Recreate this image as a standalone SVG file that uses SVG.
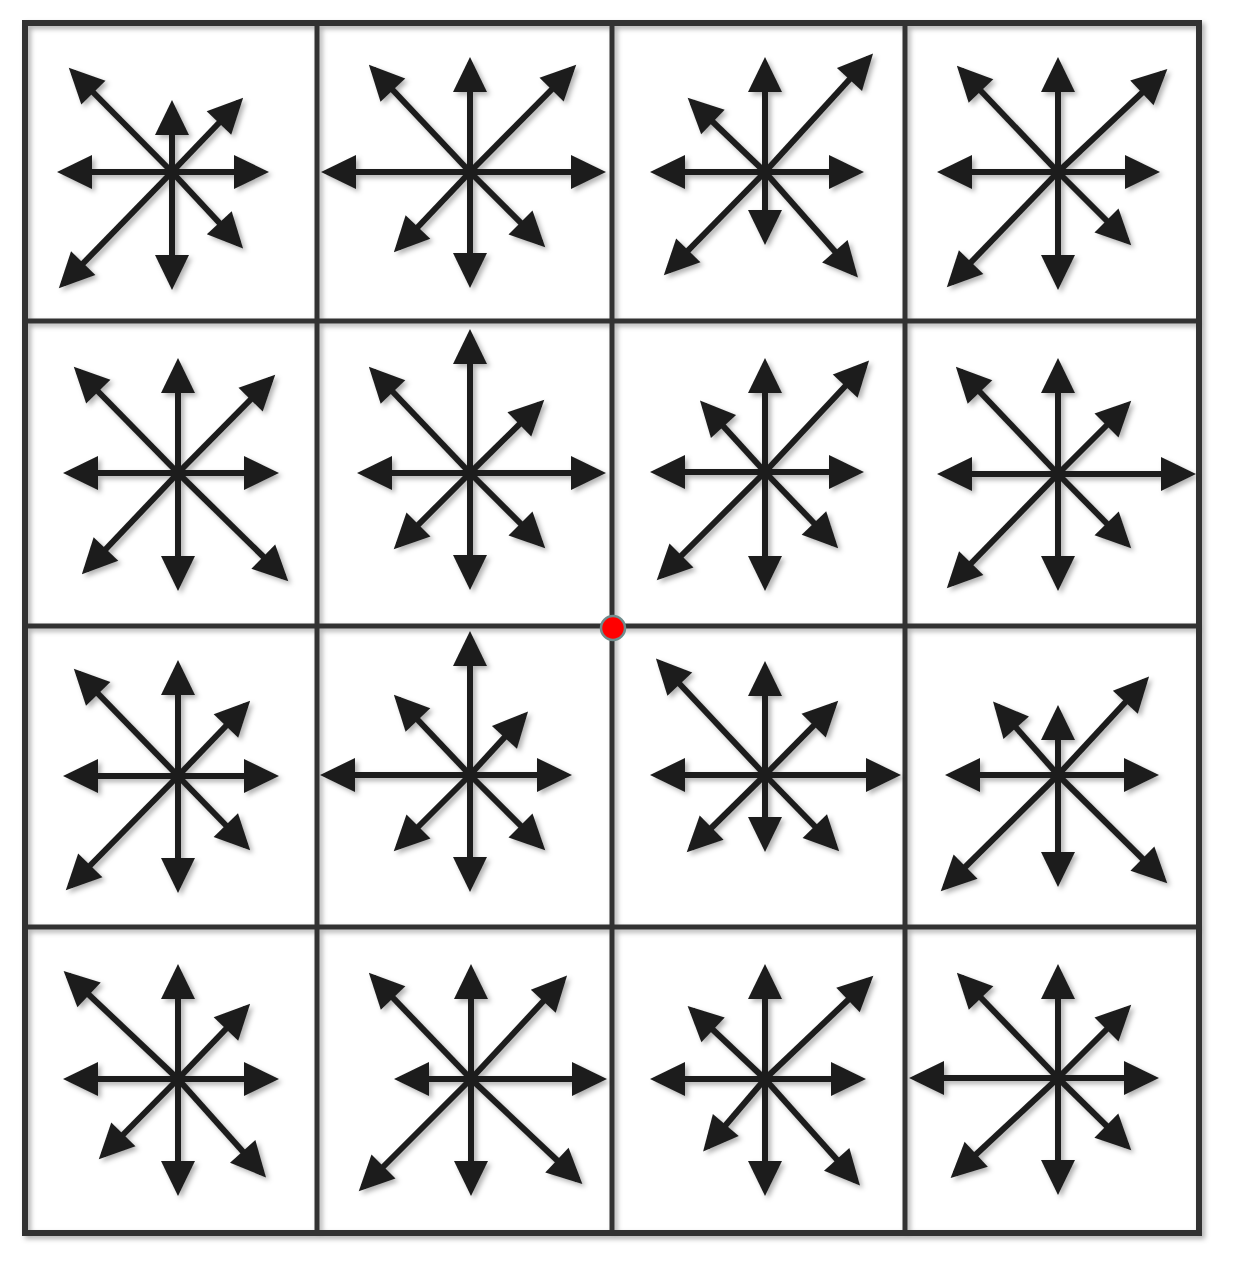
<svg xmlns="http://www.w3.org/2000/svg" width="1241" height="1271" viewBox="0 0 1241 1271">
<defs>
<style>
.g{stroke:#333;stroke-width:5;fill:none;stroke-linecap:square}
.o{stroke:#333;stroke-width:6;fill:none}
.a{stroke:#1e1e1e;stroke-width:6;fill:none;marker-end:url(#ah)}
.cell{filter:url(#sh)}
</style>
<marker id="ah" markerUnits="userSpaceOnUse" markerWidth="44" markerHeight="44" refX="0" refY="0" orient="auto" overflow="visible">
<path d="M6,0 L-29,-17 L-29,17 Z" fill="#1e1e1e"/>
</marker>
<filter id="sh" x="-20%" y="-20%" width="140%" height="140%">
<feDropShadow dx="3" dy="3" stdDeviation="2.5" flood-color="#000" flood-opacity="0.3"/>
</filter>
</defs>
<rect width="1241" height="1271" fill="#fff"/>
<g id="grid" filter="url(#sh)">
<rect class="o" x="25" y="23" width="1174" height="1210"/>
<line class="g" x1="317" y1="23" x2="317" y2="1233"/>
<line class="g" x1="612" y1="23" x2="612" y2="1233"/>
<line class="g" x1="905" y1="23" x2="905" y2="1233"/>
<line class="g" x1="25" y1="321" x2="1199" y2="321"/>
<line class="g" x1="25" y1="626" x2="1199" y2="626"/>
<line class="g" x1="25" y1="927" x2="1199" y2="927"/>
</g>
<g id="connectors">
<g id="cell-0-0" class="cell">
<path class="a" d="M172,172 L172,106"/><path class="a" d="M172,172 L172,284"/><path class="a" d="M172,172 L63,172"/><path class="a" d="M172,172 L263,172"/>
<path class="a" d="M172,172 L73,72"/><path class="a" d="M172,172 L239,102"/><path class="a" d="M172,172 L63,284"/><path class="a" d="M172,172 L239,244"/>
</g>
<g id="cell-0-1" class="cell">
<path class="a" d="M470,172 L470,63"/><path class="a" d="M470,172 L470,282"/><path class="a" d="M470,172 L327,172"/><path class="a" d="M470,172 L600,172"/>
<path class="a" d="M470,172 L373,69"/><path class="a" d="M470,172 L572,69"/><path class="a" d="M470,172 L398,248"/><path class="a" d="M470,172 L541,243"/>
</g>
<g id="cell-0-2" class="cell">
<path class="a" d="M765,172 L765,63"/><path class="a" d="M765,172 L765,239"/><path class="a" d="M765,172 L656,172"/><path class="a" d="M765,172 L858,172"/>
<path class="a" d="M765,172 L692,102"/><path class="a" d="M765,172 L869,58"/><path class="a" d="M765,172 L668,271"/><path class="a" d="M765,172 L854,273"/>
</g>
<g id="cell-0-3" class="cell">
<path class="a" d="M1058,172 L1058,63"/><path class="a" d="M1058,172 L1058,284"/><path class="a" d="M1058,172 L943,172"/><path class="a" d="M1058,172 L1154,172"/>
<path class="a" d="M1058,172 L961,70"/><path class="a" d="M1058,172 L1163,73"/><path class="a" d="M1058,172 L951,283"/><path class="a" d="M1058,172 L1127,241"/>
</g>
<g id="cell-1-0" class="cell">
<path class="a" d="M178,473 L178,364"/><path class="a" d="M178,473 L178,585"/><path class="a" d="M178,473 L69,473"/><path class="a" d="M178,473 L273,473"/>
<path class="a" d="M178,473 L78,371"/><path class="a" d="M178,473 L271,379"/><path class="a" d="M178,473 L86,570"/><path class="a" d="M178,473 L284,577"/>
</g>
<g id="cell-1-1" class="cell">
<path class="a" d="M470,473 L470,335"/><path class="a" d="M470,473 L470,584"/><path class="a" d="M470,473 L363,473"/><path class="a" d="M470,473 L600,473"/>
<path class="a" d="M470,473 L373,371"/><path class="a" d="M470,473 L540,404"/><path class="a" d="M470,473 L398,545"/><path class="a" d="M470,473 L541,544"/>
</g>
<g id="cell-1-2" class="cell">
<path class="a" d="M765,472 L765,364"/><path class="a" d="M765,472 L765,585"/><path class="a" d="M765,472 L656,472"/><path class="a" d="M765,472 L858,472"/>
<path class="a" d="M765,472 L704,405"/><path class="a" d="M765,472 L865,365"/><path class="a" d="M765,472 L661,576"/><path class="a" d="M765,472 L834,544"/>
</g>
<g id="cell-1-3" class="cell">
<path class="a" d="M1058,474 L1058,364"/><path class="a" d="M1058,474 L1058,585"/><path class="a" d="M1058,474 L943,474"/><path class="a" d="M1058,474 L1190,474"/>
<path class="a" d="M1058,474 L960,371"/><path class="a" d="M1058,474 L1127,405"/><path class="a" d="M1058,474 L951,584"/><path class="a" d="M1058,474 L1127,544"/>
</g>
<g id="cell-2-0" class="cell">
<path class="a" d="M178,776 L178,666"/><path class="a" d="M178,776 L178,887"/><path class="a" d="M178,776 L69,776"/><path class="a" d="M178,776 L273,776"/>
<path class="a" d="M178,776 L78,673"/><path class="a" d="M178,776 L246,705"/><path class="a" d="M178,776 L70,886"/><path class="a" d="M178,776 L246,846"/>
</g>
<g id="cell-2-1" class="cell">
<path class="a" d="M470,775 L470,637"/><path class="a" d="M470,775 L470,886"/><path class="a" d="M470,775 L326,775"/><path class="a" d="M470,775 L566,775"/>
<path class="a" d="M470,775 L398,699"/><path class="a" d="M470,775 L524,716"/><path class="a" d="M470,775 L398,847"/><path class="a" d="M470,775 L541,846"/>
</g>
<g id="cell-2-2" class="cell">
<path class="a" d="M765,775 L765,667"/><path class="a" d="M765,775 L765,846"/><path class="a" d="M765,775 L656,775"/><path class="a" d="M765,775 L895,775"/>
<path class="a" d="M765,775 L660,663"/><path class="a" d="M765,775 L834,705"/><path class="a" d="M765,775 L691,848"/><path class="a" d="M765,775 L835,847"/>
</g>
<g id="cell-2-3" class="cell">
<path class="a" d="M1058,775 L1058,711"/><path class="a" d="M1058,775 L1058,881"/><path class="a" d="M1058,775 L951,775"/><path class="a" d="M1058,775 L1153,775"/>
<path class="a" d="M1058,775 L997,706"/><path class="a" d="M1058,775 L1145,681"/><path class="a" d="M1058,775 L945,887"/><path class="a" d="M1058,775 L1163,879"/>
</g>
<g id="cell-3-0" class="cell">
<path class="a" d="M178,1079 L178,970"/><path class="a" d="M178,1079 L178,1190"/><path class="a" d="M178,1079 L69,1079"/><path class="a" d="M178,1079 L273,1079"/>
<path class="a" d="M178,1079 L68,975"/><path class="a" d="M178,1079 L246,1008"/><path class="a" d="M178,1079 L103,1155"/><path class="a" d="M178,1079 L262,1173"/>
</g>
<g id="cell-3-1" class="cell">
<path class="a" d="M471,1079 L471,970"/><path class="a" d="M471,1079 L471,1190"/><path class="a" d="M471,1079 L400,1079"/><path class="a" d="M471,1079 L601,1079"/>
<path class="a" d="M471,1079 L373,977"/><path class="a" d="M471,1079 L563,980"/><path class="a" d="M471,1079 L363,1187"/><path class="a" d="M471,1079 L578,1180"/>
</g>
<g id="cell-3-2" class="cell">
<path class="a" d="M765,1079 L765,970"/><path class="a" d="M765,1079 L765,1190"/><path class="a" d="M765,1079 L656,1079"/><path class="a" d="M765,1079 L860,1079"/>
<path class="a" d="M765,1079 L692,1010"/><path class="a" d="M765,1079 L869,980"/><path class="a" d="M765,1079 L707,1147"/><path class="a" d="M765,1079 L856,1181"/>
</g>
<g id="cell-3-3" class="cell">
<path class="a" d="M1058,1078 L1058,970"/><path class="a" d="M1058,1078 L1058,1189"/><path class="a" d="M1058,1078 L915,1078"/><path class="a" d="M1058,1078 L1153,1078"/>
<path class="a" d="M1058,1078 L961,977"/><path class="a" d="M1058,1078 L1127,1009"/><path class="a" d="M1058,1078 L955,1174"/><path class="a" d="M1058,1078 L1127,1146"/>
</g>
</g>
<g id="keypoint">
<circle cx="613" cy="628" r="12" fill="#f00" stroke="#6f8c8c" stroke-width="2.5"/>
</g>
</svg>
